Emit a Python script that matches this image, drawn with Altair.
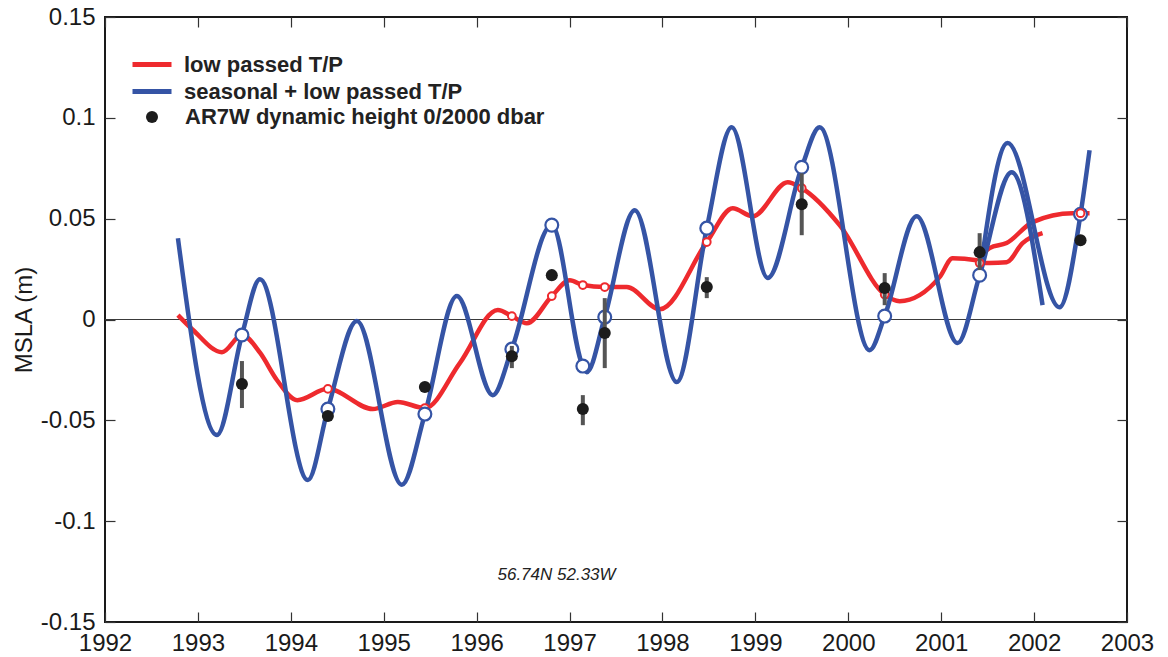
import altair as alt
import pandas as pd

# ---------------- data ----------------
LP_NAME = "low passed T/P"
SLP_NAME = "seasonal + low passed T/P"
AR_NAME = "AR7W dynamic height 0/2000 dbar"

# seasonal + low passed T/P (first record, to early 2002)
blue1_year = [1992.785, 1993.205, 1993.474, 1993.668, 1994.184, 1994.399, 1994.711,
              1995.195, 1995.443, 1995.787, 1996.174, 1996.379, 1996.809, 1997.143,
              1997.186, 1997.379, 1997.702, 1998.154, 1998.477, 1998.745, 1999.133,
              1999.499, 1999.692, 2000.230, 2000.392, 2000.736, 2001.177, 2001.414,
              2001.758, 2002.091]
blue1_val = [0.0403, -0.0573, -0.0077, 0.0200, -0.0796, -0.0444, -0.0008,
             -0.0820, -0.0469, 0.0116, -0.0375, -0.0147, 0.0468, -0.0231,
             -0.0261, 0.0012, 0.0542, -0.0310, 0.0453, 0.0953, 0.0206,
             0.0755, 0.0953, -0.0152, 0.0017, 0.0512, -0.0117, 0.0220,
             0.0730, 0.0071]
# seasonal + low passed T/P (later record)
blue2_year = [2001.414, 2001.715, 2002.274, 2002.500, 2002.597]
blue2_val = [0.0220, 0.0875, 0.0061, 0.0522, 0.0839]

# low passed T/P (first record)
red1_year = [1992.785, 1992.947, 1993.259, 1993.474, 1993.670, 1993.850, 1994.070,
             1994.399, 1994.883, 1995.152, 1995.443, 1995.819, 1996.228, 1996.379,
             1996.540, 1996.809, 1997.003, 1997.143, 1997.379, 1997.616, 1997.971,
             1998.477, 1998.756, 1998.971, 1999.348, 1999.499, 1999.907, 2000.392,
             2000.553, 2000.983, 2001.123, 2001.381, 2001.414, 2001.521, 2001.704,
             2001.876, 2002.091]
red1_val = [0.0022, -0.0052, -0.0162, -0.0077, -0.0166, -0.0300, -0.0400,
            -0.0344, -0.0444, -0.0409, -0.0439, -0.0216, 0.0047, 0.0017,
            -0.0018, 0.0116, 0.0195, 0.0171, 0.0161, 0.0161, 0.0051,
            0.0384, 0.0552, 0.0512, 0.0681, 0.0651, 0.0468, 0.0124,
            0.0091, 0.0210, 0.0304, 0.0294, 0.0280, 0.0280, 0.0284,
            0.0379, 0.0428]
# low passed T/P (later record)
red2_year = [2001.430, 2001.521, 2001.704, 2001.984, 2002.414, 2002.597]
red2_val = [0.0320, 0.0354, 0.0379, 0.0483, 0.0527, 0.0527]

# AR7W cruise times and values
cruise_year = [1993.474, 1994.399, 1995.443, 1996.379, 1996.809, 1997.143,
               1997.379, 1998.477, 1999.499, 2000.392, 2001.414, 2002.500]
red_mark_val = [-0.0077, -0.0344, -0.0439, 0.0017, 0.0116, 0.0171,
                0.0161, 0.0384, 0.0651, 0.0124, 0.0280, 0.0527]
blue_mark_val = [-0.0077, -0.0444, -0.0469, -0.0147, 0.0468, -0.0231,
                 0.0012, 0.0453, 0.0755, 0.0017, 0.0220, 0.0522]
ar_val = [-0.0320, -0.0479, -0.0335, -0.0182, 0.0220, -0.0444,
          -0.0067, 0.0161, 0.0572, 0.0156, 0.0334, 0.0393]
ar_lo = [-0.0439, None, None, -0.0241, None, -0.0524,
         -0.0241, 0.0106, 0.0418, 0.0071, 0.0245, None]
ar_hi = [-0.0206, None, None, -0.0131, None, -0.0375,
         0.0106, 0.0210, 0.0725, 0.0230, 0.0428, None]

x_ticks = list(range(1992, 2004))
y_ticks = [-0.15, -0.1, -0.05, 0, 0.05, 0.1, 0.15]
note_text = ["56.74N 52.33W"]
note_year = [1996.86]
note_val = [-0.1265]

# ---------------- tables ----------------
red_df = pd.concat([
    pd.DataFrame({"year": red1_year, "value": red1_val, "branch": "a"}),
    pd.DataFrame({"year": red2_year, "value": red2_val, "branch": "b"}),
])
red_df["series"] = LP_NAME
blue_df = pd.concat([
    pd.DataFrame({"year": blue1_year, "value": blue1_val, "branch": "a"}),
    pd.DataFrame({"year": blue2_year, "value": blue2_val, "branch": "b"}),
])
blue_df["series_b"] = SLP_NAME
marks_df = pd.DataFrame({"year": cruise_year, "red": red_mark_val,
                         "blue": blue_mark_val, "ar": ar_val,
                         "lo": ar_lo, "hi": ar_hi})
marks_df["kind"] = AR_NAME
red_m1 = marks_df.iloc[:-1]
red_m2 = marks_df.iloc[-1:]
bars_df = marks_df.dropna(subset=["lo", "hi"])
zero_df = pd.DataFrame({"v": [0.0]})
note_df = pd.DataFrame({"year": note_year, "value": note_val, "t": note_text})

# ---------------- style ----------------
RED = "#ee2a2e"
BLUE = "#3554a5"
DOT = "#1c1c1c"
BAR = "#555555"
W, H = 1022, 605
FONT = "Liberation Sans"

xs = alt.Scale(domain=[1992, 2003], nice=False, zero=False)
ys = alt.Scale(domain=[-0.15, 0.15], nice=False, zero=False)

main_x = alt.Axis(orient="bottom", values=x_ticks, format="d", ticks=False, tickSize=0,
                  labelPadding=9, labelFlush=False, domain=False, grid=False, title=None,
                  labelFontSize=24)
main_y = alt.Axis(orient="left", values=y_ticks, labelExpr="'' + datum.value",
                  ticks=False, tickSize=0, labelPadding=10, domain=False, grid=False,
                  title="MSLA (m)", titleFontSize=24, titleFontWeight="normal",
                  titlePadding=4, labelFontSize=24)
tick_style = dict(labels=False, ticks=True, tickSize=10, tickWidth=1.2,
                  tickColor="#333333", domain=False, grid=False, title=None)
bottom_edge_x = alt.Axis(orient="top", offset=-H, values=x_ticks, **tick_style)
top_edge_x = alt.Axis(orient="bottom", offset=-H, values=x_ticks, **tick_style)
left_edge_y = alt.Axis(orient="right", offset=-W, values=y_ticks, **tick_style)
right_edge_y = alt.Axis(orient="left", offset=-W, values=y_ticks, **tick_style)

legend_common = dict(orient="none", title=None, padding=0, labelFont=FONT,
                     labelFontSize=22, labelFontWeight="bold", labelColor="#222222",
                     labelLimit=800)
line_common = dict(symbolType="stroke", symbolStrokeWidth=5, symbolSize=1521,
                   labelOffset=10)
red_legend = alt.Legend(legendX=25, legendY=25.5, **line_common, **legend_common)
blue_legend = alt.Legend(legendX=25, legendY=52.5, **line_common, **legend_common)
dot_legend = alt.Legend(legendX=36, legendY=89, symbolType="circle", symbolSize=145,
                        labelOffset=22, **legend_common)

zero = alt.Chart(zero_df).mark_rule(color="#3a3a3a", strokeWidth=1.2).encode(
    y=alt.Y("v:Q", scale=ys, axis=None))

red_lines = alt.Chart(red_df).mark_line(strokeWidth=4.5, interpolate="monotone").encode(
    x=alt.X("year:Q", scale=xs, axis=bottom_edge_x),
    y=alt.Y("value:Q", scale=ys, axis=left_edge_y),
    color=alt.Color("series:N", scale=alt.Scale(domain=[LP_NAME], range=[RED]),
                    legend=red_legend),
    detail="branch:N")

blue_lines = alt.Chart(blue_df).mark_line(strokeWidth=4.5, interpolate="monotone").encode(
    x=alt.X("year:Q", scale=xs, axis=main_x),
    y=alt.Y("value:Q", scale=ys, axis=main_y),
    stroke=alt.Stroke("series_b:N", scale=alt.Scale(domain=[SLP_NAME], range=[BLUE]),
                      legend=blue_legend),
    detail="branch:N")

red_marks1 = alt.Chart(red_m1).mark_circle(fill="white", stroke=RED, strokeWidth=2,
                                          size=60, opacity=1).encode(
    x=alt.X("year:Q", scale=xs, axis=None), y=alt.Y("red:Q", scale=ys, axis=None))
blue_marks = alt.Chart(marks_df).mark_circle(fill="white", stroke=BLUE, strokeWidth=2.2,
                                            size=165, opacity=1).encode(
    x=alt.X("year:Q", scale=xs, axis=None), y=alt.Y("blue:Q", scale=ys, axis=None))
red_marks2 = alt.Chart(red_m2).mark_circle(fill="white", stroke=RED, strokeWidth=2,
                                          size=60, opacity=1).encode(
    x=alt.X("year:Q", scale=xs, axis=None), y=alt.Y("red:Q", scale=ys, axis=None))

bars = alt.Chart(bars_df).mark_rule(color=BAR, strokeWidth=4).encode(
    x=alt.X("year:Q", scale=xs, axis=None),
    y=alt.Y("lo:Q", scale=ys, axis=None), y2="hi:Q")

dots = alt.Chart(marks_df).mark_circle(size=145, opacity=1).encode(
    x=alt.X("year:Q", scale=xs, axis=top_edge_x),
    y=alt.Y("ar:Q", scale=ys, axis=right_edge_y),
    fill=alt.Fill("kind:N", scale=alt.Scale(domain=[AR_NAME], range=[DOT]),
                  legend=dot_legend))

note = alt.Chart(note_df).mark_text(font=FONT, fontSize=17, fontStyle="italic",
                                    color="#222222", align="center",
                                    baseline="middle").encode(
    x=alt.X("year:Q", scale=xs, axis=None), y=alt.Y("value:Q", scale=ys, axis=None),
    text="t:N")

chart = alt.layer(zero, red_lines, blue_lines, red_marks1, blue_marks, red_marks2,
                  bars, dots, note).resolve_axis(
    x="independent", y="independent"
).properties(
    width=W, height=H,
    autosize=alt.AutoSizeParams(type="none"),
    padding={"left": 105, "top": 17, "right": 41, "bottom": 35},
    background="white",
).configure_view(
    stroke="#1a1a1a", strokeWidth=2
).configure_axis(
    labelFont=FONT, titleFont=FONT, labelColor="#1a1a1a", titleColor="#1a1a1a"
)

chart.save("out.html", embed_options={"renderer": "svg", "actions": False})
